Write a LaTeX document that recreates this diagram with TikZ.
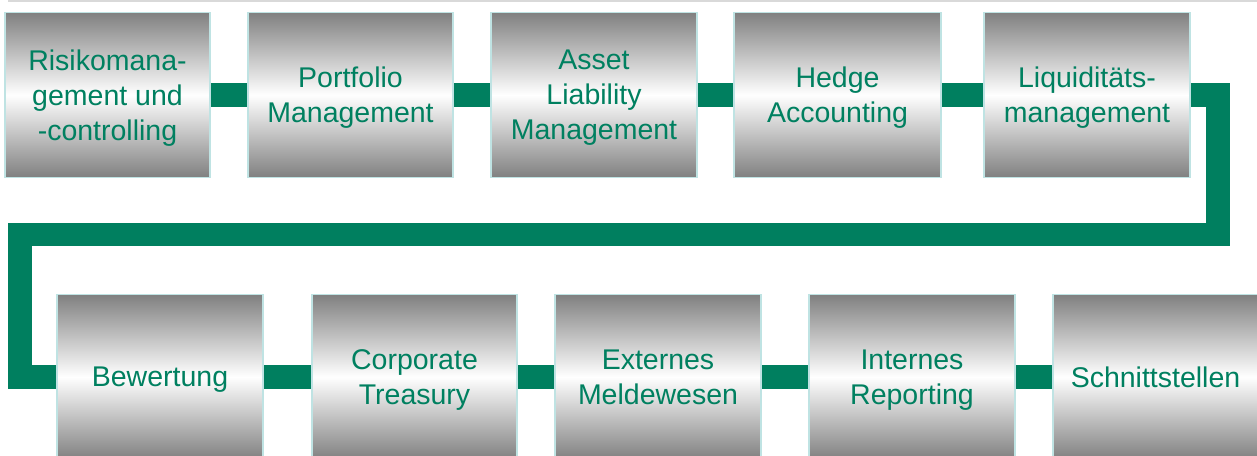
\documentclass[tikz,border=0pt]{standalone}
\usepackage{fontspec}
\setmainfont{Liberation Sans}
\usetikzlibrary{backgrounds}
\definecolor{conngreen}{HTML}{007F5F}
\definecolor{txtgreen}{HTML}{008060}
\definecolor{boxgray}{HTML}{808080}
\definecolor{boxedge}{HTML}{BFE3E3}
\definecolor{topline}{HTML}{D9D9D9}
\tikzset{
  stepbox/.style={draw=boxedge, line width=1.5pt, top color=boxgray, bottom color=boxgray, middle color=white,
    minimum width=205pt, minimum height=165pt, inner sep=0pt, align=center, text=txtgreen, text depth=0pt,
    font=\fontsize{28.5}{35}\selectfont},
  conn/.style={draw=conngreen, line width=23.5pt, line join=miter, line cap=butt}
}
\begin{document}
\begin{tikzpicture}[x=1pt,y=-1pt]
\useasboundingbox (0,0) rectangle (1257,455);
\clip (0,0) rectangle (1257,455);
\coordinate (tl1) at (8,1);
\coordinate (tl2) at (1257,1);
\draw[topline, line width=2pt] (tl1) -- (tl2);
% top row
\node[stepbox] (b1) at (107.5,95) {Risikomana-\\gement und\\-controlling};
\node[stepbox] (b2) at (350.5,95) {Portfolio\\Management};
\node[stepbox, minimum width=206pt] (b3) at (594,95) {Asset\\Liability\\Management};
\node[stepbox, minimum width=207pt] (b4) at (837.5,95) {Hedge\\Accounting};
\node[stepbox, minimum width=206pt] (b5) at (1087,95) {Liquiditäts-\\management};
% bottom row
\node[stepbox, minimum width=206pt] (b6) at (160,377) {Bewertung};
\node[stepbox] (b7) at (414.5,377) {Corporate\\Treasury};
\node[stepbox, minimum width=206pt] (b8) at (658,377) {Externes\\Meldewesen};
\node[stepbox, minimum width=206pt] (b9) at (912,377) {Internes\\Reporting};
\node[stepbox] (b10) at (1155.5,377) {Schnittstellen};
\coordinate (cR) at (1218,234.5);
\coordinate (cL) at (20,234.5);
\begin{scope}[on background layer]
\draw[conn] (b1.east) -- (b2.west);
\draw[conn] (b2.east) -- (b3.west);
\draw[conn] (b3.east) -- (b4.west);
\draw[conn] (b4.east) -- (b5.west);
\draw[conn] (b5.east) -| (cR) -- (cL) |- (b6.west);
\draw[conn] (b6.east) -- (b7.west);
\draw[conn] (b7.east) -- (b8.west);
\draw[conn] (b8.east) -- (b9.west);
\draw[conn] (b9.east) -- (b10.west);
\end{scope}
\end{tikzpicture}
\end{document}
